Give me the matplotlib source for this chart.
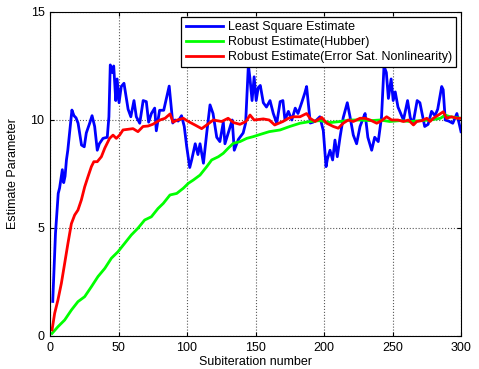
import matplotlib
matplotlib.use('Agg')
from matplotlib import pyplot as plt

plt.rcParams['font.family'] = ['Liberation Sans', 'DejaVu Sans']

# Least square estimate (blue)
ls_x = [2, 4, 6, 7, 9, 10, 11, 12, 13, 16, 17.5, 19, 20.5, 23, 25, 26.5, 29, 30.7, 32.6, 34.5,
        36, 38.7, 41.8, 43, 44, 45.5, 46.5, 48, 49, 50.4, 52, 54, 57, 59, 61.3, 63, 65.5, 68,
        70.3, 72, 74, 76.4, 77.6, 80, 83, 87, 89.6, 91.3, 93.6, 96, 98, 99.8, 102, 103.4, 106,
        108, 109.5, 112, 114.4, 116.8, 119, 121.7, 124, 126.5, 127.7, 130.6, 133, 134.5, 137.5,
        141, 142.8, 144.8, 146, 147.5, 149, 150.5, 152, 153.5, 155.7, 158, 160.6, 163, 165.5,
        168, 170, 171.5, 174, 176.5, 179, 181, 183.7, 186, 187.3, 188.5, 190, 192, 194.6, 197,
        199.5, 201.5, 202.5, 204.4, 206.3, 208, 209.7, 211.7, 214, 217, 219, 221.4, 223.8,
        226.3, 228.7, 230, 232, 234.8, 237, 239.6, 242, 243.8, 245.5, 247, 249, 250.5, 252, 254,
        256, 258, 261, 263, 265, 268, 270, 273.5, 276, 278.5, 281, 283, 285.9, 287, 288.5,
        291, 294, 297, 300]
ls_y = [1.6, 4.75, 6.6, 6.85, 7.7, 7.1, 7.4, 8.15, 8.6, 10.46, 10.2, 10.1, 9.85, 8.84, 8.76, 9.4,
        9.86, 10.2, 9.7, 8.6, 8.9, 9.15, 9.2, 10.15, 12.55, 12.2, 12.5, 10.9, 11.9, 10.8, 11.55,
        11.7, 10.5, 10.15, 10.9, 10.15, 9.85, 10.9, 10.85, 9.9, 10.3, 10.55, 9.5, 10.45, 10.45,
        11.57, 9.86, 10.0, 9.95, 10.2, 9.7, 8.76, 7.8, 8.15, 8.9, 8.4, 8.9, 8.0, 9.4, 10.7, 10.3,
        9.2, 9.0, 9.9, 8.9, 9.5, 10.0, 8.6, 9.1, 9.4, 9.86, 12.55, 11.9, 10.9, 12.0, 10.9, 11.5,
        11.6, 10.8, 10.6, 10.9, 10.3, 9.85, 10.85, 10.9, 10.0, 10.4, 10.0, 10.55, 10.3, 10.8,
        11.25, 11.55, 10.8, 9.86, 9.9, 10.0, 10.15, 9.5, 7.84, 8.2, 8.6, 8.15, 9.07, 8.3, 9.2,
        10.1, 10.8, 10.15, 9.3, 8.9, 9.7, 10.1, 10.3, 9.2, 8.6, 9.2, 9.0, 10.15, 12.5, 12.2,
        11.0, 11.9, 10.9, 11.3, 10.6, 10.3, 10.0, 10.9, 10.1, 9.84, 10.9, 10.8, 9.7, 9.8, 10.4,
        10.2, 10.5, 11.55, 11.4, 10.0, 9.95, 9.85, 10.3, 9.46]

# Robust estimate (Hubber) (green)
hub_x = [1.5, 5.8, 10.7, 15.6, 20.4, 25.3, 30.2, 35, 40, 44.8, 49.6, 54.5, 59.4, 64.2, 69.1, 74,
         78.8, 82.7, 87.6, 92.5, 97.3, 101, 104.6, 109.5, 114.4, 118, 122.9, 126.5, 130, 133.8,
         138.7, 143.6, 148.4, 153.3, 160, 168, 175, 182.5, 190, 197, 204.4, 211.7, 219, 226.3,
         233.6, 241, 248, 255.5, 262.8, 270, 277.4, 285, 288.5, 292, 300]
hub_y = [0.12, 0.43, 0.74, 1.2, 1.59, 1.82, 2.28, 2.75, 3.13, 3.6, 3.9, 4.29, 4.68, 4.99, 5.37,
         5.52, 5.9, 6.14, 6.53, 6.6, 6.84, 7.07, 7.22, 7.45, 7.84, 8.15, 8.3, 8.46, 8.69, 8.92,
         9.0, 9.15, 9.23, 9.33, 9.46, 9.54, 9.7, 9.85, 9.93, 9.97, 9.88, 9.93, 10.0, 10.0, 9.97,
         10.0, 9.93, 9.97, 9.93, 9.97, 10.0, 10.08, 10.23, 10.15, 10.08]

# Robust estimate (error saturation nonlinearity) (red)
sat_x = [1.5, 3.4, 5.8, 8.3, 10.7, 13.1, 15.6, 18, 20.4, 22.9, 25.3, 27.7, 30.2, 32, 34.5, 37.5,
         40, 43.5, 46, 48.4, 50.8, 53.3, 57, 60.6, 64.2, 67.9, 71.5, 75, 77.6, 80.3, 84, 87.6,
         89.8, 93, 97.3, 101, 105.8, 110.7, 114.4, 119.2, 125.3, 130, 134, 138.7, 143, 146, 149,
         155.7, 160, 164, 170, 174, 177.7, 182.5, 187.3, 189.8, 193.5, 198.3, 202, 206.8, 210.4,
         214, 217.7, 221.4, 226.3, 230, 233.6, 238.5, 242, 245.7, 249.4, 254, 258, 261.6, 265.3,
         267.7, 271.4, 275, 277.4, 279.8, 283.5, 287, 289.5, 293, 297, 300]
sat_y = [0.28, 1.05, 1.67, 2.44, 3.36, 4.29, 5.2, 5.6, 5.83, 6.3, 6.9, 7.37, 7.84, 8.07, 8.07, 8.3,
         8.7, 9.15, 9.3, 9.15, 9.3, 9.54, 9.57, 9.6, 9.46, 9.7, 9.72, 9.8, 9.9, 10.0, 10.08, 10.28,
         9.9, 10.0, 10.08, 9.93, 9.77, 9.6, 9.77, 10.0, 9.93, 10.08, 9.88, 9.8, 9.93, 10.23, 10.0,
         10.05, 10.0, 9.77, 9.93, 10.08, 10.15, 10.15, 10.3, 10.08, 9.93, 10.12, 9.85, 9.7, 9.62,
         9.85, 10.0, 9.93, 10.08, 10.08, 10.0, 9.85, 9.97, 10.15, 10.0, 10.0, 9.93, 10.0, 9.77,
         9.93, 9.97, 10.08, 9.93, 10.08, 10.23, 10.38, 10.08, 10.15, 10.08, 10.08]

x_ticks = [0, 50, 100, 150, 200, 250, 300]
y_ticks = [0, 5, 10, 15]

fig = plt.figure(figsize=(4.79, 3.69), dpi=100)
ax = fig.add_axes([50 / 479, 33 / 369, 411 / 479, 324 / 369])

ax.plot(ls_x, ls_y, color='#0000ff', lw=2, label='Least Square Estimate')
ax.plot(hub_x, hub_y, color='#00ff00', lw=2, label='Robust Estimate(Hubber)')
ax.plot(sat_x, sat_y, color='#ff0000', lw=2, label='Robust Estimate(Error Sat. Nonlinearity)')

ax.set_xlim(0, 300)
ax.set_ylim(0, 15)
ax.set_xticks(x_ticks)
ax.set_yticks(y_ticks)
ax.tick_params(direction='in', top=True, right=True, length=3, labelsize=9, pad=4)
ax.grid(True, linestyle=':', color='0.35', linewidth=0.8)
for s in ax.spines.values():
    s.set_linewidth(0.8)

ax.set_xlabel('Subiteration number', fontsize=9, labelpad=2)
ax.set_ylabel('Estimate Parameter', fontsize=9, labelpad=8)

leg = ax.legend(loc='upper right', bbox_to_anchor=(1, 1), borderaxespad=0.4, fontsize=9,
                fancybox=False, edgecolor='black', framealpha=1, handlelength=3.0,
                handletextpad=0.35, labelspacing=0.22, borderpad=0.35)
leg.get_frame().set_linewidth(0.9)

fig.savefig('out.png', dpi=100)
